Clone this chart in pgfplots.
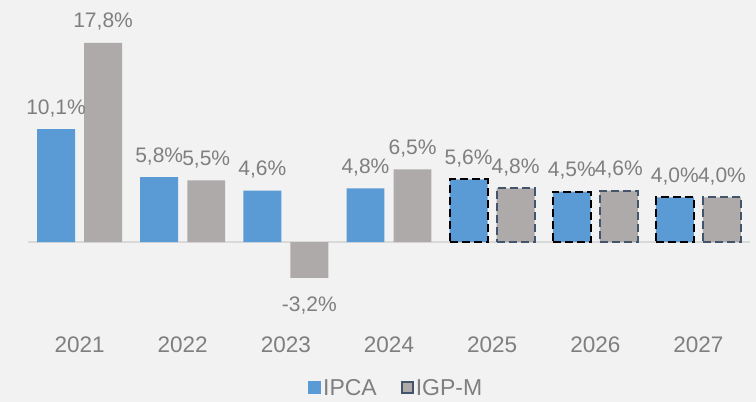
\documentclass[border=0pt]{standalone}
\usepackage{pgfplots}
\pgfplotsset{compat=1.18}
\usepackage{fontspec}
\setmainfont{Liberation Sans}
\definecolor{bg}{HTML}{F2F2F2}
\definecolor{ipca}{HTML}{5B9BD5}
\definecolor{igpm}{HTML}{AEAAAA}
\definecolor{slate}{HTML}{44546A}
\definecolor{labelgray}{HTML}{7F7F7F}
\definecolor{zeroline}{HTML}{D9D9D9}
\begin{document}
\begin{tikzpicture}[x=1pt,y=1pt]
\fill[bg] (-28,-69) rectangle (728,333);
\begin{axis}[
  scale only axis, width=722pt, height=333pt,
  xmin=-0.5, xmax=6.5, ymin=-8.13, ymax=21.63,
  axis line style={draw=none}, ytick=\empty,
  xtick={0,1,2,3,4,5,6}, xticklabels={2021,2022,2023,2024,2025,2026,2027},
  major tick length=0pt,
  xticklabel style={font=\fontsize{22.5}{26}\selectfont, text=labelgray, anchor=base, yshift=-19pt},
  clip=false, ybar, bar width=0.368,
  visualization depends on={rawy \as \rawy},
  nodes near coords={\pgfmathprintnumber[fixed,fixed zerofill,precision=1,use comma,assume math mode=true]{\pgfplotspointmeta}\%},
  every node near coord/.append style={font=\fontsize{21}{25}\selectfont, text=labelgray, anchor=base, yshift={(\rawy>0) ? 15 : -34}},
  legend style={at={(0.51,-0.165)}, anchor=center, draw=none, fill=none, legend columns=2,
    font=\fontsize{23}{27}\selectfont, text=labelgray,
    /tikz/every even column/.append style={column sep=22pt}},
  legend cell align=left,
]
\draw[zeroline, line width=2pt] (axis cs:-0.5,0) -- (axis cs:6.5,0);
\addplot[fill=ipca, draw=none, bar shift=-0.228,
  legend image code/.code={\fill[ipca] (0pt,-6.5pt) rectangle (13pt,6.5pt);}]
  coordinates {(0,10.1) (1,5.8) (2,4.6) (3,4.8)};
\addlegendentry{IPCA}
\addplot[fill=igpm, draw=none, bar shift=0.228,
  legend image code/.code={\draw[fill=igpm, draw=slate, line width=2pt] (1pt,-5.5pt) rectangle (12pt,5.5pt);}]
  coordinates {(0,17.8) (1,5.5) (2,-3.2) (3,6.5)};
\addlegendentry{IGP-M}
\addplot[fill=ipca, draw=black, line width=2pt, dash pattern=on 8pt off 4pt, bar shift=-0.228, forget plot]
  coordinates {(4,5.6) (5,4.5) (6,4.0)};
\addplot[fill=igpm, draw=slate, line width=2pt, dash pattern=on 8pt off 4pt, bar shift=0.228, forget plot]
  coordinates {(4,4.8) (5,4.6) (6,4.0)};
\end{axis}
\pgfresetboundingbox
\useasboundingbox (-28,-69) rectangle (728,333);
\end{tikzpicture}
\end{document}
